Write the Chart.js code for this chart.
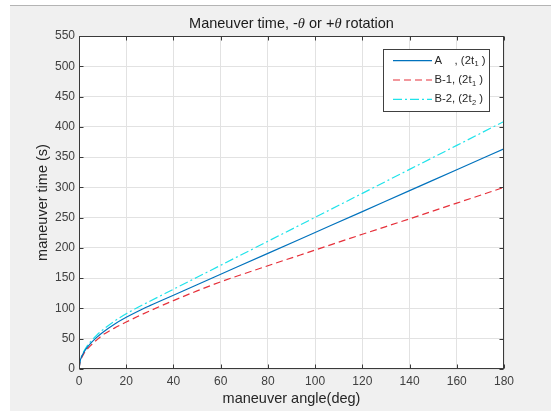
<!DOCTYPE html>
<html><head><meta charset="utf-8">
<script src="https://cdn.jsdelivr.net/npm/chart.js@4.4.0/dist/chart.umd.min.js"></script>
<style>
html,body{margin:0;padding:0;background:#fff;width:551px;height:411px;overflow:hidden}
#bg{position:absolute;left:10px;top:5px;right:0;bottom:0;background:#f0f0f0;border-top:1px solid #b4b4b4;}
#wrap{position:absolute;left:0;top:0;width:551px;height:411px}
</style></head><body>
<div id="bg"></div>
<div id="wrap"><canvas id="c" width="551" height="411"></canvas></div>
<script>
// ---- data ----
const angles   = [0, 0.5, 1, 2, 3, 5, 7.5, 10, 15, 20, 25, 30, 40, 50, 60, 80, 100, 120, 140, 160, 180];
const seriesA  = [0, 13.5, 19.1, 27.0, 33.1, 42.7, 52.3, 60.4, 74.0, 85.4, 95.5, 104.6, 121.9, 139.1, 156.4, 191.0, 225.5, 260.0, 294.6, 329.0, 363.7];
const seriesB1 = [0, 12.5, 17.5, 25.0, 30.5, 39.0, 48.0, 56.0, 67.5, 77.5, 87.0, 96.0, 113.0, 129.0, 144.0, 170.5, 196.5, 222.5, 248.0, 274.0, 300.0];
const seriesB2 = [0, 14.4, 20.4, 28.8, 35.3, 45.6, 55.8, 64.5, 79.0, 91.2, 101.9, 111.9, 131.7, 151.5, 171.3, 210.9, 250.5, 290.1, 329.7, 369.3, 408.9];
const xTicks = [0, 20, 40, 60, 80, 100, 120, 140, 160, 180];
const yTicks = [0, 50, 100, 150, 200, 250, 300, 350, 400, 450, 500, 550];
const seriesNames = ['A    , (2t', 'B-1, (2t', 'B-2, (2t'];
const seriesSubs = ['1', '1', '2'];
const titleParts = ['Maneuver time, -', '\u03B8', ' or +', '\u03B8', ' rotation'];
const titleItalic = [false, true, false, true, false];
const xLabel = 'maneuver angle(deg)';
const yLabel = 'maneuver time (s)';

const SANS = '"Liberation Sans", Arial, Helvetica, sans-serif';

function pts(vals){ return angles.map((a,i)=>({x:a, y:vals[i]})); }

const areaPlugin = {
  id:'area',
  beforeDraw(chart){
    const {ctx, chartArea:a} = chart;
    ctx.save(); ctx.fillStyle='#ffffff';
    ctx.fillRect(a.left, a.top, a.right-a.left, a.bottom-a.top);
    ctx.restore();
  },
  afterDatasetsDraw(chart){
    const {ctx, chartArea:a, scales} = chart;
    ctx.save();
    ctx.strokeStyle='#3a3a3a'; ctx.lineWidth=1;
    const L=Math.round(a.left)+0.5, R=Math.round(a.right)-0.5, T=Math.round(a.top)+0.5, B=Math.round(a.bottom)-0.5;
    ctx.strokeRect(L, T, R-L, B-T);
    const tl=4;
    ctx.beginPath();
    xTicks.forEach(v=>{
      const x=Math.round(scales.x.getPixelForValue(v))+0.5;
      ctx.moveTo(x,B); ctx.lineTo(x,B-tl);
      ctx.moveTo(x,T); ctx.lineTo(x,T+tl);
    });
    yTicks.forEach(v=>{
      const y=Math.round(scales.y.getPixelForValue(v))+0.5;
      ctx.moveTo(L,y); ctx.lineTo(L+tl,y);
      ctx.moveTo(R,y); ctx.lineTo(R-tl,y);
    });
    ctx.stroke();
    ctx.restore();
  },
  afterDraw(chart){
    const {ctx, chartArea:a} = chart;
    ctx.save();
    // title
    const fs=14.5;
    const fonts = titleItalic.map(it=> it ? `italic ${fs}px "Liberation Serif", "Times New Roman", serif` : `${fs}px ${SANS}`);
    let w=0;
    titleParts.forEach((t,i)=>{ ctx.font=fonts[i]; w+=ctx.measureText(t).width; });
    let x=(a.left+a.right)/2 - w/2;
    ctx.fillStyle='#1a1a1a'; ctx.textBaseline='middle';
    titleParts.forEach((t,i)=>{ ctx.font=fonts[i]; ctx.fillText(t,x,24); x+=ctx.measureText(t).width; });
    // legend
    const bx=383.5, by=49.5, bw=106, bh=62;
    ctx.fillStyle='#ffffff'; ctx.fillRect(bx,by,bw,bh);
    ctx.strokeStyle='#404040'; ctx.lineWidth=1; ctx.strokeRect(bx,by,bw,bh);
    const rows=[60.7, 80, 99.3];
    chart.data.datasets.forEach((ds,i)=>{
      const y=rows[i];
      ctx.save();
      ctx.strokeStyle=ds.borderColor; ctx.lineWidth=ds.borderWidth;
      ctx.setLineDash(ds.borderDash||[]);
      ctx.beginPath(); ctx.moveTo(393, y); ctx.lineTo(432, y); ctx.stroke();
      ctx.restore();
      ctx.fillStyle='#262626'; ctx.textBaseline='middle';
      ctx.font=`11.3px ${SANS}`;
      let tx=434.5;
      ctx.fillText(seriesNames[i], tx, y); tx+=ctx.measureText(seriesNames[i]).width;
      ctx.font=`7.5px ${SANS}`;
      ctx.fillText(seriesSubs[i], tx+0.5, y+3.5); tx+=ctx.measureText(seriesSubs[i]).width+0.5;
      ctx.font=`11.3px ${SANS}`;
      ctx.fillText(' )', tx, y);
    });
    ctx.restore();
  }
};

new Chart(document.getElementById('c'), {
  type:'line',
  data:{
    datasets:[
      {label:'A', data:pts(seriesA), borderColor:'#0072BD', borderWidth:1.2, pointRadius:0, fill:false, cubicInterpolationMode:'monotone'},
      {label:'B-1', data:pts(seriesB1), borderColor:'#e6303a', borderWidth:1.2, borderDash:[7,4], pointRadius:0, fill:false, cubicInterpolationMode:'monotone'},
      {label:'B-2', data:pts(seriesB2), borderColor:'#1fe3ea', borderWidth:1.2, borderDash:[9,3,2,3], pointRadius:0, fill:false, cubicInterpolationMode:'monotone'}
    ]
  },
  options:{
    responsive:false, animation:false, devicePixelRatio:1,
    layout:{padding:{left:0, top:36, right:47, bottom:0}},
    plugins:{legend:{display:false}, tooltip:{enabled:false}, title:{display:false}},
    scales:{
      x:{type:'linear', min:0, max:180,
        afterBuildTicks:s=>{ s.ticks = xTicks.map(v=>({value:v})); },
        afterFit:s=>{ s.height=42; },
        ticks:{font:{size:12, family:SANS}, color:'#404040', padding:5, maxRotation:0},
        grid:{color:'#e2e2e2', drawTicks:false},
        border:{display:false},
        title:{display:true, text:xLabel, font:{size:14.5, family:SANS}, color:'#262626', padding:{top:0,bottom:3}}
      },
      y:{type:'linear', min:0, max:550,
        afterBuildTicks:s=>{ s.ticks = yTicks.map(v=>({value:v})); },
        afterFit:s=>{ s.width=79; },
        ticks:{font:{size:12, family:SANS}, color:'#404040', padding:4},
        grid:{color:'#e2e2e2', drawTicks:false},
        border:{display:false},
        title:{display:true, text:yLabel, font:{size:14.5, family:SANS}, color:'#262626', padding:{top:34,bottom:0}}
      }
    }
  },
  plugins:[areaPlugin]
});
</script>
</body></html>
